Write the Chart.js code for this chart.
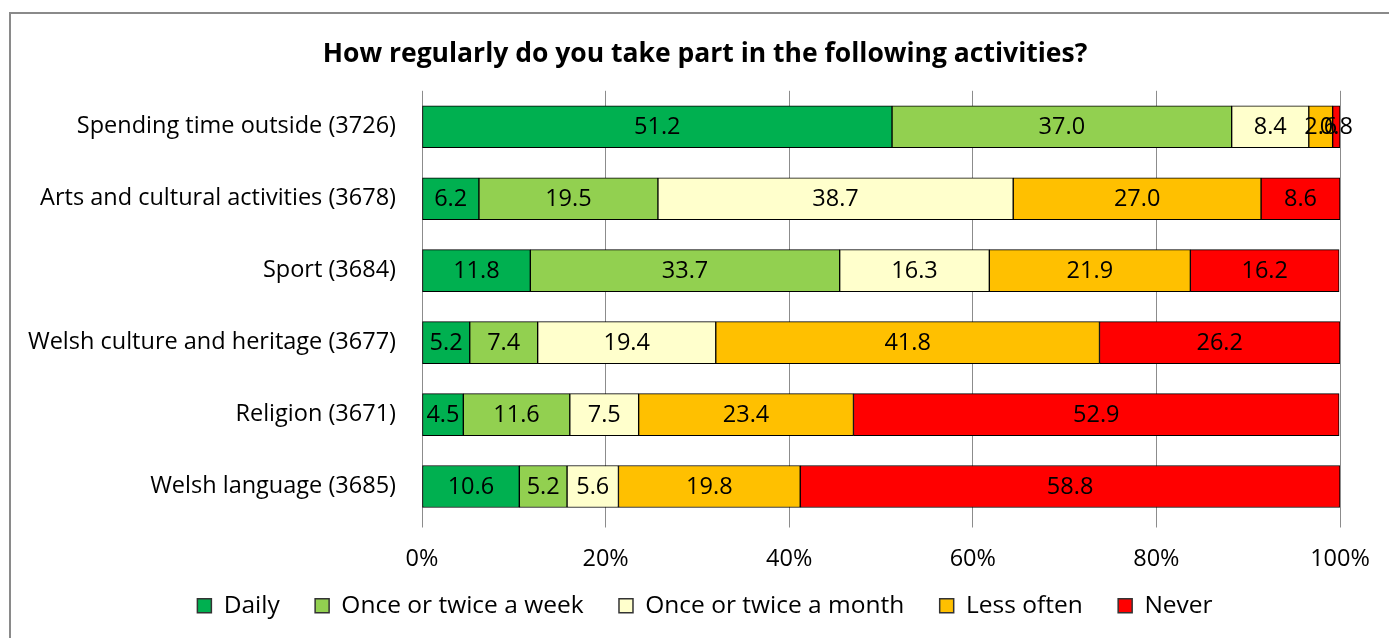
<!DOCTYPE html>
<html>
<head>
<meta charset="utf-8">
<script src="https://cdn.jsdelivr.net/npm/chart.js@4/dist/chart.umd.min.js"></script>
<style>
  body { margin: 0; background: #fff; }
</style>
</head>
<body>
<canvas id="myChart" width="1389" height="638"></canvas>
<script>
var categories = [
	'Spending time outside (3726)',
	'Arts and cultural activities (3678)',
	'Sport (3684)',
	'Welsh culture and heritage (3677)',
	'Religion (3671)',
	'Welsh language (3685)'
];
var seriesNames = ['Daily', 'Once or twice a week', 'Once or twice a month', 'Less often', 'Never'];
var daily   = [51.2, 6.2, 11.8, 5.2, 4.5, 10.6];
var weekly  = [37.0, 19.5, 33.7, 7.4, 11.6, 5.2];
var monthly = [8.4, 38.7, 16.3, 19.4, 7.5, 5.6];
var less    = [2.6, 27.0, 21.9, 41.8, 23.4, 19.8];
var never   = [0.8, 8.6, 16.2, 26.2, 52.9, 58.8];
var xTicks  = ['0%', '20%', '40%', '60%', '80%', '100%'];

var colors = ['#00B050', '#92D050', '#FFFFCC', '#FFC000', '#FF0000'];
var FONT = '"Open Sans", Lato, sans-serif';

// numbers in the middle of each segment
var barLabels = {
	id: 'barLabels',
	afterDatasetsDraw: function(chart) {
		var ctx = chart.ctx;
		ctx.save();
		ctx.font = '23.5px ' + FONT;
		ctx.fillStyle = '#000';
		ctx.textAlign = 'center';
		ctx.textBaseline = 'middle';
		chart.data.datasets.forEach(function(ds, i) {
			chart.getDatasetMeta(i).data.forEach(function(bar, j) {
				var p = bar.getProps(['x', 'y', 'base'], true);
				ctx.fillText(ds.data[j].toFixed(1), (p.x + p.base) / 2, p.y + 1);
			});
		});
		ctx.restore();
	}
};

// white background + grey frame
var frame = {
	id: 'frame',
	beforeDraw: function(chart) {
		var ctx = chart.ctx;
		ctx.save();
		ctx.fillStyle = '#fff';
		ctx.fillRect(0, 0, chart.width, chart.height);
		ctx.strokeStyle = '#8a8a8a';
		ctx.lineWidth = 2;
		ctx.strokeRect(10, 13, 1500, 1000);
		ctx.restore();
	}
};

var pad = '    ';
var datasets = [daily, weekly, monthly, less, never].map(function(arr, i) {
	return {
		label: seriesNames[i],
		data: arr,
		backgroundColor: colors[i],
		borderColor: '#000',
		borderWidth: 1,
		borderSkipped: false,
		barThickness: 42
	};
});

var ctx = document.getElementById('myChart');
var myChart = new Chart(ctx, {
	type: 'bar',
	data: { labels: categories, datasets: datasets },
	plugins: [frame, barLabels],
	options: {
		indexAxis: 'y',
		responsive: false,
		animation: false,
		layout: { padding: { left: 21, right: 0, top: 0, bottom: 10 } },
		plugins: {
			title: {
				display: true,
				text: 'How regularly do you take part in the following activities?',
				color: '#000',
				font: { family: FONT, size: 26.5, weight: 'bold' },
				padding: { top: 39, bottom: 20 }
			},
			legend: {
				position: 'bottom',
				labels: {
					color: '#000',
					font: { family: FONT, size: 24.5 },
					boxWidth: 14,
					boxHeight: 14,
					padding: 10,
					generateLabels: function(chart) {
						return chart.data.datasets.map(function(ds, i) {
							return {
								text: ds.label + (i < chart.data.datasets.length - 1 ? pad : ''),
								fillStyle: ds.backgroundColor,
								strokeStyle: '#333',
								lineWidth: 1.5,
								datasetIndex: i
							};
						});
					}
				}
			},
			tooltip: { enabled: false }
		},
		scales: {
			x: {
				stacked: true,
				min: 0,
				max: 100,
				ticks: {
					stepSize: 20,
					color: '#000',
					font: { family: FONT, size: 23.5 },
					padding: 18,
					callback: function(v, i) { return xTicks[i]; }
				},
				grid: { color: '#8c8c8c', lineWidth: 1, tickLength: 5 },
				border: { display: false },
				afterFit: function(scale) { scale.height = 61; }
			},
			y: {
				stacked: true,
				ticks: {
					color: '#000',
					font: { family: FONT, size: 23.5 },
					padding: 26
				},
				grid: { display: false, drawTicks: false },
				border: { display: false },
				afterFit: function(scale) { scale.width = 401; }
			},
			yRight: {
				type: 'category',
				labels: categories,
				position: 'right',
				ticks: { display: false },
				grid: { display: false, drawTicks: false },
				border: { display: false },
				afterFit: function(scale) { scale.width = 49; }
			}
		}
	}
});
</script>
</body>
</html>
